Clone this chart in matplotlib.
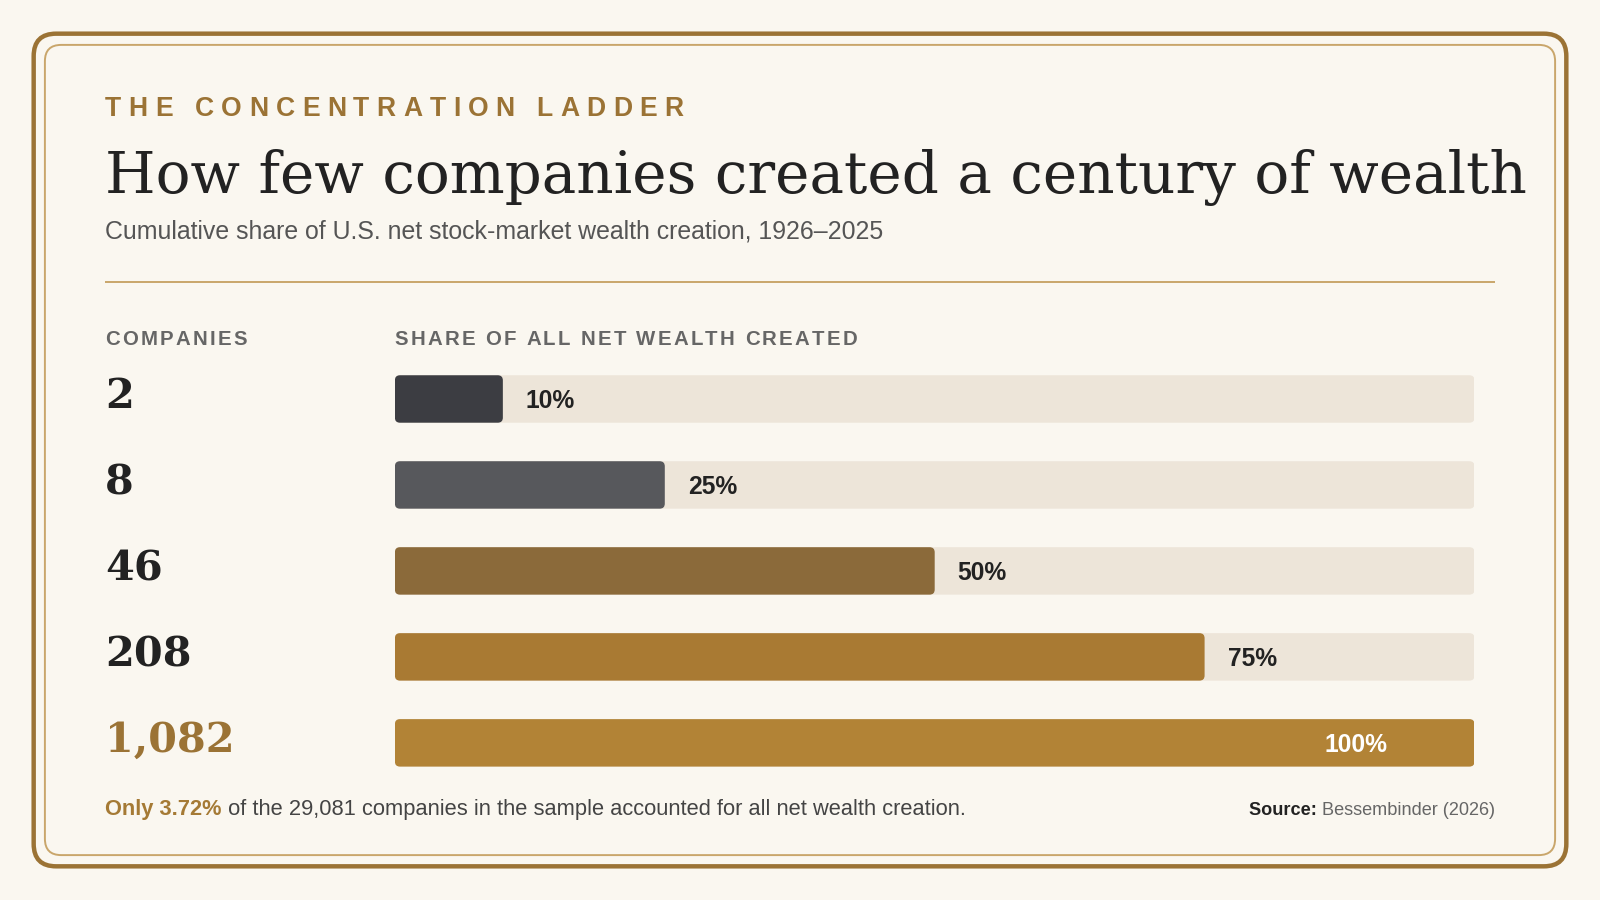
import matplotlib
matplotlib.use("Agg")
import matplotlib.pyplot as plt
from matplotlib.patches import FancyBboxPatch
from matplotlib.font_manager import FontProperties

# ---------------- data ----------------
companies = ["2", "8", "46", "208", "1,082"]
shares = [10, 25, 50, 75, 100]
share_labels = ["10%", "25%", "50%", "75%", "100%"]

kicker = "THE CONCENTRATION LADDER"
title = "How few companies created a century of wealth"
subtitle = "Cumulative share of U.S. net stock-market wealth creation, 1926\u20132025"
col_head_left = "COMPANIES"
col_head_right = "SHARE OF ALL NET WEALTH CREATED"
foot_bold = "Only 3.72%"
foot_rest = " of the 29,081 companies in the sample accounted for all net wealth creation."
source_bold = "Source: "
source_rest = "Bessembinder (2026)"

# ---------------- style ----------------
BG = "#faf7f0"
GOLD = "#9b7335"
GOLD_LIGHT = "#c9a66b"
TRACK = "#ede5d9"
DARK = "#222222"
bar_colors = ["#3c3d42", "#57585c", "#8b6a3a", "#a97a33", "#b28336"]
number_colors = [DARK, DARK, DARK, DARK, GOLD]
label_colors = [DARK, DARK, DARK, DARK, "#ffffff"]

SANS = "Liberation Sans"
SERIF = "DejaVu Serif"

W, H = 1568.0, 882.0          # layout units
S = 1600.0 / W                # output px per layout unit


def pt(px):
    return px * S * 0.72


fig = plt.figure(figsize=(16, 9), dpi=100)
fig.patch.set_facecolor(BG)
ax = fig.add_axes([0, 0, 1, 1])
ax.set_xlim(0, W)
ax.set_ylim(H, 0)
ax.axis("off")
renderer = fig.canvas.get_renderer()


def tw(s, fp):
    w, h, d = renderer.get_text_width_height_descent(s, fp, ismath=False)
    return w / S


def spaced(x, y, s, fp, color, target):
    widths = [tw(c, fp) for c in s]
    gap = (target - sum(widths)) / (len(s) - 1)
    for c, w in zip(s, widths):
        ax.text(x, y, c, fontproperties=fp, color=color, ha="left", va="baseline")
        x += w + gap


# frames
ax.add_patch(FancyBboxPatch((33, 33), 1535 - 33, 849 - 33,
                            boxstyle="round,pad=0,rounding_size=22",
                            fc="none", ec=GOLD, lw=3.2, zorder=1))
ax.add_patch(FancyBboxPatch((44, 44), 1524 - 44, 838 - 44,
                            boxstyle="round,pad=0,rounding_size=16",
                            fc="none", ec=GOLD_LIGHT, lw=1.4, zorder=1))

# kicker
fp_k = FontProperties(family=SANS, weight="bold", size=pt(26))
spaced(103, 113.5, kicker, fp_k, GOLD, 670 - 103)

# title
ax.text(103, 189.5, title, fontproperties=FontProperties(family=SERIF, size=pt(56.9)),
        color=DARK, ha="left", va="baseline")
# subtitle
ax.text(103, 234, subtitle, fontproperties=FontProperties(family=SANS, size=pt(24.35)),
        color="#555555", ha="left", va="baseline")

# divider
ax.plot([103, 1465], [276, 276], color=GOLD_LIGHT, lw=1.4, solid_capstyle="butt")

# column headers
fp_h = FontProperties(family=SANS, weight="bold", size=pt(20))
spaced(103, 338, col_head_left, fp_h, "#666666", 242 - 103)
spaced(387, 338, col_head_right, fp_h, "#666666", 840 - 387)

# bars axes
row_h = 84.25
bar_left, bar_right = 387.0, 1445.0
first_center = 391.0
top = first_center - row_h / 2
n = len(shares)
bax = fig.add_axes([bar_left / W, 1 - (top + n * row_h) / H,
                    (bar_right - bar_left) / W, n * row_h / H])
bax.set_xlim(0, 100)
bax.set_ylim(n - 0.5, -0.5)
bax.axis("off")
bax.patch.set_alpha(0)

units_per_px_x = 100.0 / (bar_right - bar_left)
aspect = (1.0 / row_h) / units_per_px_x
bh = 46.5 / row_h
rad = 5.0 * units_per_px_x

fp_lab = FontProperties(family=SANS, weight="bold", size=pt(24.2))
cap_pts = pt(24.2) * 0.716

for i, (v, lab) in enumerate(zip(shares, share_labels)):
    bax.add_patch(FancyBboxPatch((0, i - bh / 2), 100, bh,
                                 boxstyle=f"round,pad=0,rounding_size={rad}",
                                 mutation_aspect=aspect, fc=TRACK, ec="none", zorder=1))
    bax.add_patch(FancyBboxPatch((0, i - bh / 2), v, bh,
                                 boxstyle=f"round,pad=0,rounding_size={rad}",
                                 mutation_aspect=aspect, fc=bar_colors[i], ec="none", zorder=2))
    if v >= 100:
        bax.annotate(lab, xy=(v, i), xytext=(-pt(85), -cap_pts / 2), textcoords="offset points",
                     ha="right", va="baseline", fontproperties=fp_lab, color=label_colors[i], zorder=3)
    else:
        bax.annotate(lab, xy=(v, i), xytext=(pt(22.5), -cap_pts / 2), textcoords="offset points",
                     ha="left", va="baseline", fontproperties=fp_lab, color=label_colors[i], zorder=3)

# company numbers
fp_num = FontProperties(family=SERIF, weight="bold", size=pt(40.5))
for i, c in enumerate(companies):
    ax.text(103, 400 + i * row_h, c, fontproperties=fp_num, color=number_colors[i],
            ha="left", va="baseline")

# footnote
fp_fb = FontProperties(family=SANS, weight="bold", size=pt(21.5))
fp_fr = FontProperties(family=SANS, size=pt(21.5))
ax.text(103, 799, foot_bold, fontproperties=fp_fb, color="#a57a35", ha="left", va="baseline")
ax.text(103 + tw(foot_bold, fp_fb), 799, foot_rest, fontproperties=fp_fr, color="#444444",
        ha="left", va="baseline")

# source
fp_sb = FontProperties(family=SANS, weight="bold", size=pt(17.8))
fp_sr = FontProperties(family=SANS, size=pt(17.8))
ax.text(1465, 799, source_rest, fontproperties=fp_sr, color="#666666", ha="right", va="baseline")
ax.text(1465 - tw(source_rest, fp_sr), 799, source_bold, fontproperties=fp_sb, color=DARK,
        ha="right", va="baseline")

fig.savefig("out.png", dpi=100, facecolor=BG)
